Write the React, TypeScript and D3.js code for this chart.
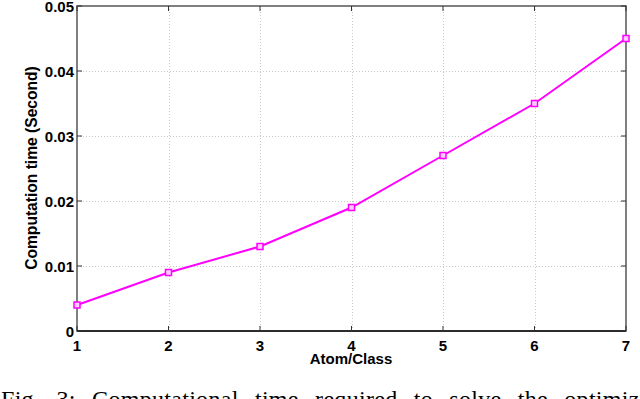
import { useEffect, useRef } from "react";
import * as d3 from "d3";

const atoms = [1, 2, 3, 4, 5, 6, 7];
const seconds = [0.004, 0.009, 0.013, 0.019, 0.027, 0.035, 0.045];
const yTicks = [0, 0.01, 0.02, 0.03, 0.04, 0.05];
const yTickLabels = ["0", "0.01", "0.02", "0.03", "0.04", "0.05"];

export default function App() {
  const svgRef = useRef<SVGSVGElement>(null);

  useEffect(() => {
    const svg = d3.select(svgRef.current);
    svg.selectAll("*").remove();

    const left = 77, right = 626, top = 6, bottom = 331;
    const x = d3.scaleLinear().domain([1, 7]).range([left, right]);
    const y = d3.scaleLinear().domain([0, 0.05]).range([bottom, top]);
    const font = "Arial, 'Liberation Sans', sans-serif";

    svg.append("rect").attr("width", 640).attr("height", 399).attr("fill", "#fff");

    // grid
    const grid = svg.append("g").attr("stroke", "#c8c8c8").attr("stroke-width", 1).attr("stroke-dasharray", "1,2");
    grid.selectAll(".gx").data(atoms.slice(1, -1)).enter().append("line")
      .attr("x1", (d) => Math.round(x(d)) + 0.5).attr("x2", (d) => Math.round(x(d)) + 0.5)
      .attr("y1", top).attr("y2", bottom);
    grid.selectAll(".gy").data(yTicks.slice(1, -1)).enter().append("line")
      .attr("y1", (d) => Math.round(y(d)) + 0.5).attr("y2", (d) => Math.round(y(d)) + 0.5)
      .attr("x1", left).attr("x2", right);

    // box
    svg.append("rect").attr("x", left).attr("y", top).attr("width", right - left).attr("height", bottom - top)
      .attr("fill", "none").attr("stroke", "#555").attr("stroke-width", 1.5);
    svg.append("line").attr("x1", left).attr("x2", right).attr("y1", bottom).attr("y2", bottom)
      .attr("stroke", "#111").attr("stroke-width", 1.5);

    // ticks (inward)
    const ticks = svg.append("g").attr("stroke", "#333").attr("stroke-width", 1);
    atoms.forEach((d) => {
      ticks.append("line").attr("x1", x(d)).attr("x2", x(d)).attr("y1", bottom).attr("y2", bottom - 5);
      ticks.append("line").attr("x1", x(d)).attr("x2", x(d)).attr("y1", top).attr("y2", top + 5);
    });
    yTicks.forEach((d) => {
      ticks.append("line").attr("x1", left).attr("x2", left + 5).attr("y1", y(d)).attr("y2", y(d));
      ticks.append("line").attr("x1", right).attr("x2", right - 5).attr("y1", y(d)).attr("y2", y(d));
    });

    // tick labels
    svg.append("g").selectAll("text").data(atoms).enter().append("text")
      .attr("x", (d) => x(d)).attr("y", 351).attr("text-anchor", "middle")
      .attr("font-family", font).attr("font-weight", "bold").attr("font-size", 15)
      .text((d) => String(d));
    svg.append("g").selectAll("text").data(yTicks).enter().append("text")
      .attr("x", left - 3).attr("y", (d) => y(d) + 5.5).attr("text-anchor", "end")
      .attr("font-family", font).attr("font-weight", "bold").attr("font-size", 15)
      .text((d, i) => yTickLabels[i]);

    // axis titles
    svg.append("text").attr("x", 351).attr("y", 364).attr("text-anchor", "middle")
      .attr("font-family", font).attr("font-weight", "bold").attr("font-size", 15)
      .text("Atom/Class");
    svg.append("text").attr("transform", "translate(37,168) rotate(-90)").attr("text-anchor", "middle")
      .attr("font-family", font).attr("font-weight", "bold").attr("font-size", 15.6)
      .text("Computation time (Second)");

    // series
    const line = d3.line<number>().x((d, i) => x(atoms[i])).y((d) => y(d));
    svg.append("path").datum(seconds).attr("d", line).attr("fill", "none")
      .attr("stroke", "#ff00ff").attr("stroke-width", 2);
    svg.append("g").selectAll("rect").data(seconds).enter().append("rect")
      .attr("x", (d, i) => x(atoms[i]) - 3).attr("y", (d) => y(d) - 3)
      .attr("width", 6).attr("height", 6).attr("fill", "#ffd0ff")
      .attr("stroke", "#ff00ff").attr("stroke-width", 1.5);

    // caption (cut off at the bottom)
    svg.append("text").attr("x", 1).attr("y", 407)
      .attr("font-family", "'Liberation Serif', 'Times New Roman', Times, serif").attr("font-size", 24)
      .attr("letter-spacing", 0.3).attr("word-spacing", 10)
      .text("Fig. 3: Computational time required to solve the optimization problem");
  }, []);

  return (
    <svg ref={svgRef} width={640} height={399}
      style={{ position: "absolute", left: 0, top: 0, display: "block" }} />
  );
}
